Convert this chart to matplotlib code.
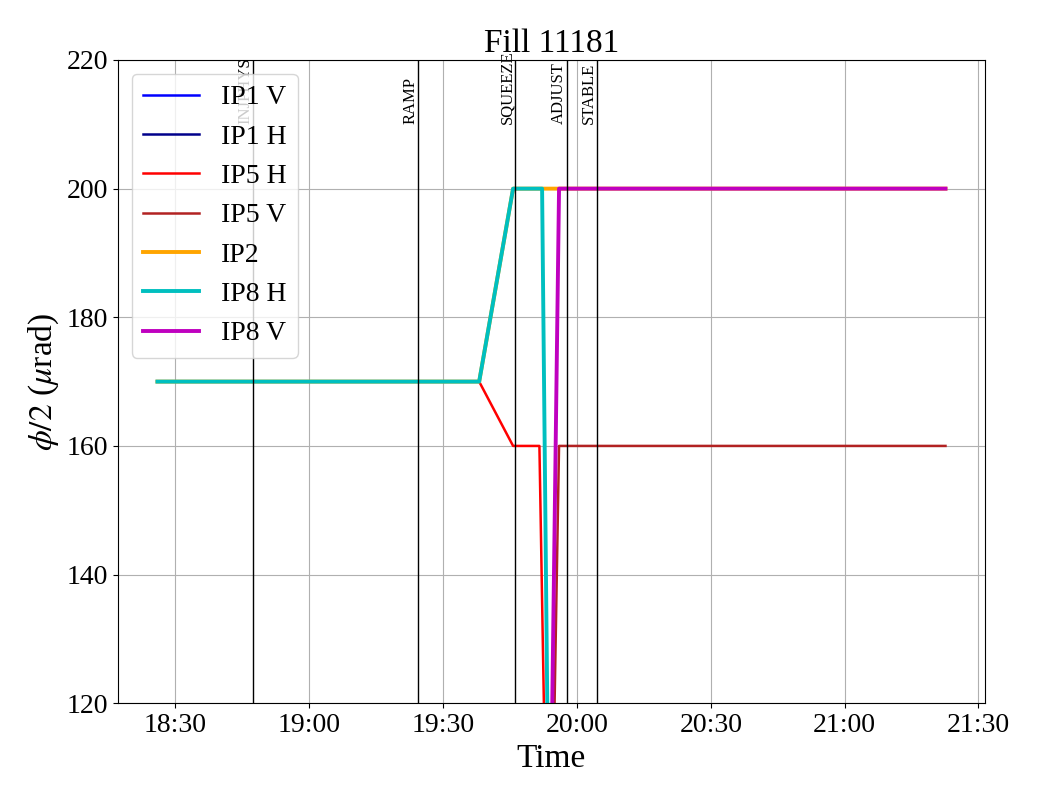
import pandas as pd
import matplotlib
matplotlib.use("Agg")
import matplotlib.pyplot as plt
import matplotlib.dates as mdates

plt.rcParams['font.family'] = 'serif'
plt.rcParams['font.serif'] = ['Liberation Serif', 'DejaVu Serif']
plt.rcParams['mathtext.fontset'] = 'stix'

day = "2025-01-01 "

# crossing angle series (time, half angle in urad)
ip1v_t = ["18:26.0", "19:38.1", "19:45.7", "21:22.6"]
ip1v_y = [170, 170, 200, 200]
ip1h_t = ["18:26.0", "21:22.6"]
ip1h_y = [0, 0]
ip5h_t = ["18:26.0", "19:38.1", "19:45.7", "19:51.6", "19:55.6", "21:22.6"]
ip5h_y = [170, 170, 160, 160, 0, 0]
ip5v_t = ["18:26.0", "19:52.0", "19:56.0", "21:22.6"]
ip5v_y = [0, 0, 160, 160]
ip2_t = ["18:26.0", "19:38.1", "19:45.7", "21:22.6"]
ip2_y = [170, 170, 200, 200]
ip8h_t = ["18:26.0", "19:38.1", "19:45.7", "19:52.2", "19:55.1", "21:22.6"]
ip8h_y = [170, 170, 200, 200, 0, 0]
ip8v_t = ["18:26.0", "19:52.2", "19:56.0", "21:22.6"]
ip8v_y = [0, 0, 200, 200]

modes = ["INJPHYS", "RAMP", "SQUEEZE", "ADJUST", "STABLE"]
mode_t = ["18:47.4", "19:24.5", "19:46.2", "19:57.7", "20:04.4"]


def to_time(lst):
    out = []
    for s in lst:
        hm, frac = s.split(".")
        out.append(pd.Timestamp(day + hm) + pd.Timedelta(seconds=6 * int(frac)))
    return out


fig = plt.figure(figsize=(10.4, 8), dpi=100)
ax = fig.add_axes([0.1135, 0.121, 0.8335, 0.804])

ax.plot(to_time(ip1v_t), ip1v_y, color='blue', lw=1.8, label='IP1 V')
ax.plot(to_time(ip1h_t), ip1h_y, color='darkblue', lw=1.8, label='IP1 H')
ax.plot(to_time(ip5h_t), ip5h_y, color='red', lw=1.8, label='IP5 H')
ax.plot(to_time(ip5v_t), ip5v_y, color='firebrick', lw=1.8, label='IP5 V')
ax.plot(to_time(ip2_t), ip2_y, color='orange', lw=2.8, label='IP2')
ax.plot(to_time(ip8h_t), ip8h_y, color='c', lw=2.8, label='IP8 H')
ax.plot(to_time(ip8v_t), ip8v_y, color='m', lw=2.8, label='IP8 V')

for name, t in zip(modes, to_time(mode_t)):
    ax.axvline(t, color='black', lw=1)
    ax.text(t, 210, name, rotation=90, ha='right', va='bottom', fontsize=12)

ax.set_ylim(120, 220)
ax.set_yticks([120, 140, 160, 180, 200, 220])
ax.xaxis.set_major_locator(mdates.MinuteLocator(byminute=[0, 30]))
ax.xaxis.set_major_formatter(mdates.DateFormatter('%H:%M'))
ax.tick_params(labelsize=20)
ax.grid(True)
ax.set_xlabel('Time', fontsize=24)
ax.set_ylabel(r'$\phi/2$ ($\mu$rad)', fontsize=24)
ax.set_title('Fill 11181', fontsize=24)
ax.legend(loc='upper left', fontsize=20)

fig.savefig('out.png', dpi=100)
